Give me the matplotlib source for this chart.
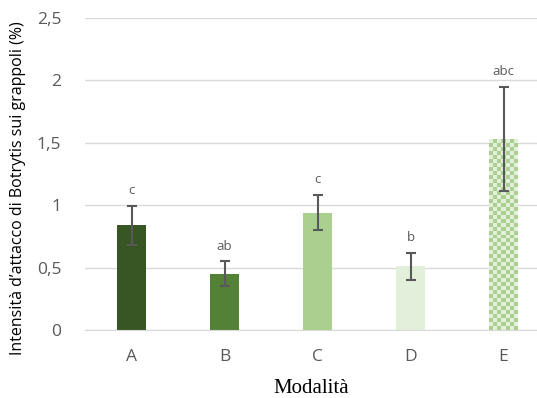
import matplotlib.pyplot as plt
import numpy as np
from matplotlib.colors import ListedColormap

# dati
modalita = ['A', 'B', 'C', 'D', 'E']
intensita = [0.84, 0.45, 0.94, 0.51, 1.53]
errore = [0.155, 0.10, 0.14, 0.11, 0.42]
lettere = ['c', 'ab', 'c', 'b', 'abc']
colori = ['#375623', '#538135', '#A9D08E', '#E2EFDA', '#A9D08E']

grigio = '#595959'

fig = plt.figure(figsize=(5.37, 3.98), dpi=100)
ax = fig.add_axes([85/537, 68/398, 452/537, 312/398])

x = np.arange(len(modalita))
bars = ax.bar(x, intensita, width=0.31, color=colori, zorder=2)

# barra E a scacchi
b = bars[4]
bx, by = b.get_x(), b.get_y()
bw, bh = b.get_width(), b.get_height()
nx, ny = 7, 48
scacchi = (np.indices((ny, nx)).sum(axis=0) % 2).astype(float)
cm = ListedColormap(['#A9D08E', '#E2EFDA'])
im = ax.imshow(scacchi, cmap=cm, extent=(bx, bx + bw, by, by + bh),
               origin='lower', interpolation='nearest', aspect='auto', zorder=2.5)
im.set_clip_path(b)

ax.errorbar(x, intensita, yerr=errore, fmt='none', ecolor=grigio,
            elinewidth=1.5, capsize=3.5, capthick=1.5, zorder=3)

for xi, v, e, t in zip(x, intensita, errore, lettere):
    ax.text(xi, v + e + 0.07, t, ha='center', va='bottom',
            fontsize=9.5, color=grigio, family='Open Sans')

ax.set_xlim(-0.5, 4.36)
ax.set_ylim(0, 2.5)
ax.set_yticks([0, 0.5, 1, 1.5, 2, 2.5])
ax.set_yticklabels(['0', '0,5', '1', '1,5', '2', '2,5'])
ax.set_xticks(x)
ax.set_xticklabels(modalita)
ax.yaxis.grid(True, color='#D9D9D9', lw=1, zorder=0)
ax.set_axisbelow(True)
for s in ['top', 'right', 'left']:
    ax.spines[s].set_visible(False)
ax.spines['bottom'].set_color('#D9D9D9')
ax.tick_params(length=0, labelsize=12.5, labelcolor=grigio)
ax.tick_params(axis='y', pad=17)
ax.tick_params(axis='x', pad=14)
for lab in ax.get_xticklabels() + ax.get_yticklabels():
    lab.set_family('Open Sans')

ax.set_ylabel("Intensità d\u2019attacco di Botrytis sui grappoli (%)",
              fontsize=11.5, family='Open Sans', color='black',
              va='center')
ax.yaxis.set_label_coords(-0.148, 0.455)
ax.set_xlabel('Modalità', fontsize=15, family='Liberation Serif', labelpad=10)

fig.savefig('out.png', dpi=100)
